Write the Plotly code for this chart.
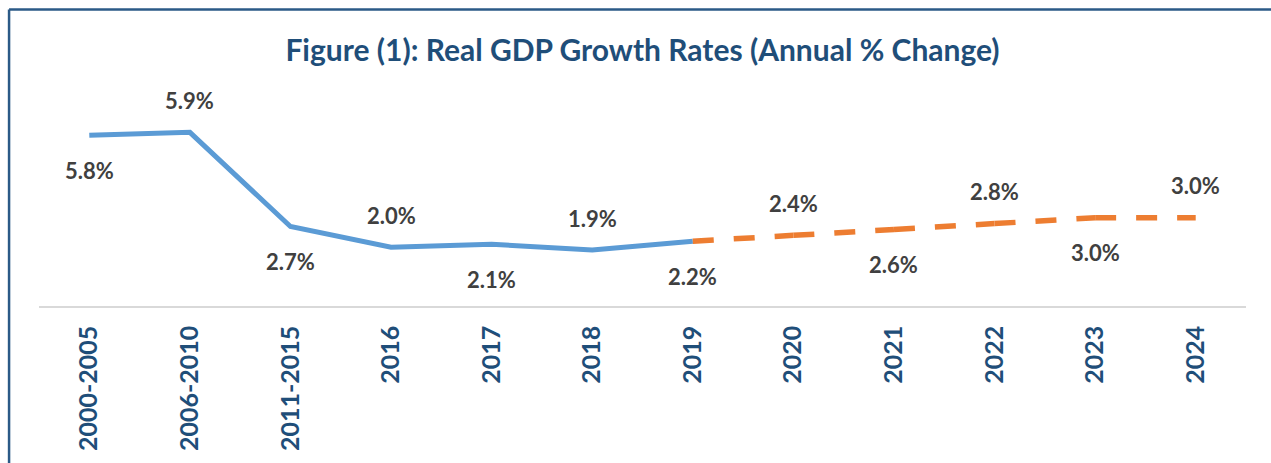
import plotly.graph_objects as go

categories = ["2000-2005", "2006-2010", "2011-2015", "2016", "2017", "2018",
              "2019", "2020", "2021", "2022", "2023", "2024"]
actual_values = [5.8, 5.9, 2.7, 2.0, 2.1, 1.9, 2.2]
forecast_values = [2.2, 2.4, 2.6, 2.8, 3.0, 3.0]
label_values = actual_values + forecast_values[1:]

title_text = "Figure (1): Real GDP Growth Rates (Annual % Change)"

BLUE = "#5B9BD5"
ORANGE = "#ED7D31"
NAVY = "#1F4E79"
LABEL = "#404040"
FONT = "Lato"

n_act = len(actual_values)
fig = go.Figure()
fig.add_trace(go.Scatter(
    x=list(range(n_act)), y=actual_values, mode="lines",
    line=dict(color=BLUE, width=5), hoverinfo="skip", showlegend=False))

# forecast: dash pattern restarts at each point (as in the source chart)
fx = list(range(n_act - 1, n_act - 1 + len(forecast_values)))
for k in range(len(forecast_values) - 1):
    fig.add_trace(go.Scatter(
        x=fx[k:k + 2], y=forecast_values[k:k + 2], mode="lines",
        line=dict(color=ORANGE, width=5.5, dash="21px,20px"),
        hoverinfo="skip", showlegend=False))

for i, v in enumerate(label_values):
    above = (i % 2 == 1)
    fig.add_annotation(
        x=i, y=v, xref="x", yref="y", text=f"{v:.1f}%", showarrow=False,
        yshift=32 if above else -35,
        font=dict(family=FONT, size=22, color=LABEL, weight="bold"))

# chart frame (top and left edges visible in the crop)
fig.add_shape(type="line", xref="paper", yref="paper",
              x0=-0.0248, x1=1.05, y0=1.439, y1=1.439,
              line=dict(color="#2B5A87", width=2.5))
fig.add_shape(type="line", xref="paper", yref="paper",
              x0=-0.0248, x1=-0.0248, y0=1.439, y1=-0.8,
              line=dict(color="#2B5A87", width=2.5))

fig.update_layout(
    width=1271, height=463,
    margin=dict(l=38.5, r=25, t=100, b=157, autoexpand=False),
    paper_bgcolor="white", plot_bgcolor="white",
    title=dict(text=title_text, x=0.5, xref="paper", xanchor="center",
               y=1 - 50 / 463, yanchor="middle",
               font=dict(family=FONT, size=30, color=NAVY, weight="bold")),
    xaxis=dict(
        tickmode="array", tickvals=list(range(len(categories))), ticktext=categories,
        tickangle=-90, showgrid=False, zeroline=False, automargin=False,
        showline=True, linecolor="#D9D9D9", linewidth=1.5,
        ticks="", ticklabelstandoff=8,
        tickfont=dict(family=FONT, size=25, color=NAVY, weight="bold"),
        range=[-0.5, len(categories) - 0.5]),
    yaxis=dict(range=[0, 7], visible=False, showgrid=False, zeroline=False,
               automargin=False),
)

fig.write_html("out.html", config={"displayModeBar": False},
               post_script="document.body.style.margin='0';document.body.style.overflow='hidden';")
